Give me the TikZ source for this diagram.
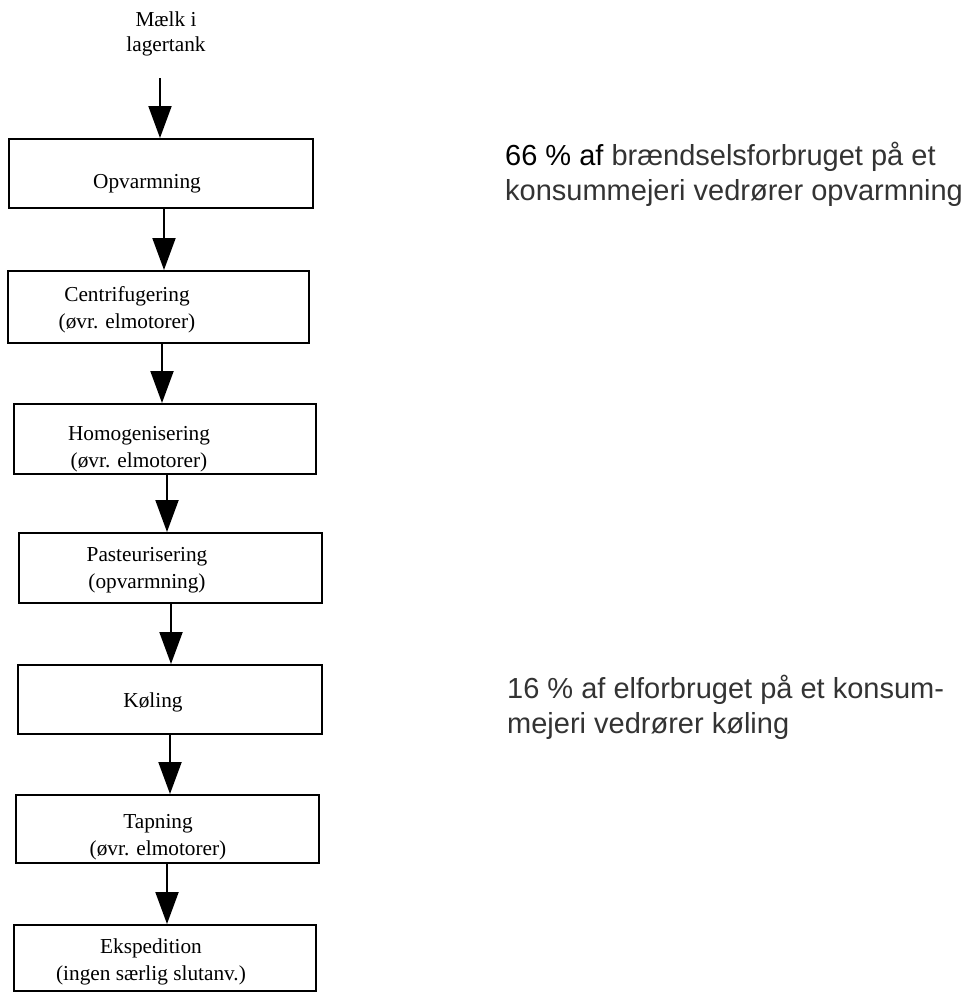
\documentclass[tikz,border=0pt]{standalone}
\usepackage{fontspec}
\setmainfont{Liberation Serif}
\newfontfamily\notefont{Liberation Sans}
\usetikzlibrary{arrows.meta}
\definecolor{notegray}{HTML}{333333}
\tikzset{
  stepbox/.style={draw=black, line width=2bp, rectangle, inner sep=0pt, anchor=north west},
  steptext/.style={font=\fontsize{21.3bp}{27bp}\selectfont, align=center, inner sep=0pt},
  flow/.style={line width=2bp, -{Triangle[length=32bp,width=23bp]}},
  note/.style={font=\notefont\fontsize{29bp}{35bp}\selectfont, text=notegray, align=left, inner sep=0pt, anchor=base west}
}
\begin{document}
\begin{tikzpicture}[x=1bp,y=-1bp]
\useasboundingbox (0,0) rectangle (971,992);

% source label
\node[steptext, font=\fontsize{21.3bp}{25bp}\selectfont] (src) at (166,34) {Mælk i\\lagertank};

% process boxes
\node[stepbox, minimum width=304bp, minimum height=69bp] (b1) at (8,138) {};
\node[stepbox, minimum width=301bp, minimum height=72bp] (b2) at (7,270) {};
\node[stepbox, minimum width=302bp, minimum height=70bp] (b3) at (13,403) {};
\node[stepbox, minimum width=303bp, minimum height=70bp] (b4) at (18,532) {};
\node[stepbox, minimum width=304bp, minimum height=69bp] (b5) at (17,664) {};
\node[stepbox, minimum width=303bp, minimum height=68bp] (b6) at (15,794) {};
\node[stepbox, minimum width=302bp, minimum height=66bp] (b7) at (13,924) {};

% box texts
\node[steptext] (t1) at (147,184) {Opvarmning};
\node[steptext] (t2) at (127,310) {Centrifugering\\(øvr. elmotorer)};
\node[steptext] (t3) at (139,449) {Homogenisering\\(øvr. elmotorer)};
\node[steptext] (t4) at (147,570) {Pasteurisering\\(opvarmning)};
\node[steptext] (t5) at (153,702) {Køling};
\node[steptext] (t6) at (158,837) {Tapning\\(øvr. elmotorer)};
\node[steptext] (t7) at (151,962) {Ekspedition\\(ingen særlig slutanv.)};

% flow arrows, all vertical
\draw[flow] ([xshift=-6bp,yshift=-22bp]src.south) -- ([xshift=-6bp]src.south |- b1.north);
\draw[flow] ([xshift=3bp]b1.south) -- ([xshift=3bp]b1.south |- b2.north);
\draw[flow] ([xshift=3.5bp]b2.south) -- ([xshift=3.5bp]b2.south |- b3.north);
\draw[flow] ([xshift=2bp]b3.south) -- ([xshift=2bp]b3.south |- b4.north);
\draw[flow] ([xshift=0.5bp]b4.south) -- ([xshift=0.5bp]b4.south |- b5.north);
\draw[flow] (b5.south) -- (b5.south |- b6.north);
\draw[flow] ([xshift=-0.5bp]b6.south) -- ([xshift=-0.5bp]b6.south |- b7.north);

% side notes
\node[note] (n1) at (505,200) {\textcolor{black}{66 \% af} brændselsforbruget på et\\konsummejeri vedrører opvarmning};
\node[note] (n2) at (507,733) {16 \% af elforbruget på et konsum-\\mejeri vedrører køling};
\end{tikzpicture}
\end{document}
